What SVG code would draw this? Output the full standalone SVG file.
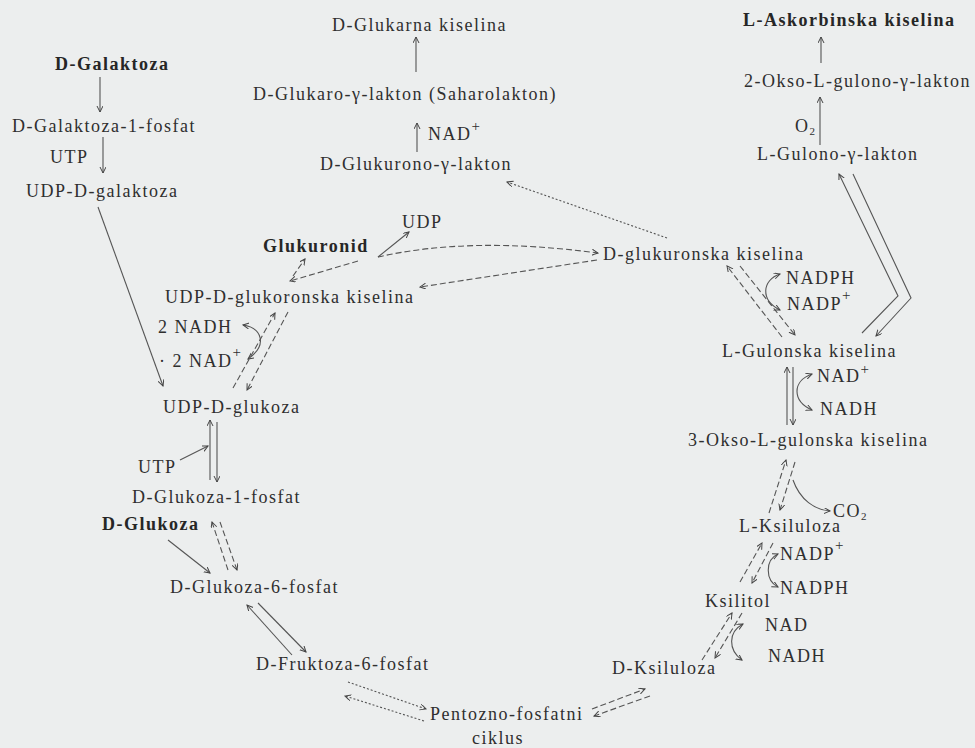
<svg xmlns="http://www.w3.org/2000/svg" width="975" height="748" viewBox="0 0 975 748">
<defs>
<style>
text{font-family:"Liberation Serif","DejaVu Serif",serif;font-size:18px;letter-spacing:1.5px;fill:#2f2f2f}
.b{font-weight:bold;fill:#262626}
.sup{font-size:15px;letter-spacing:0}
.sub{font-size:11px;letter-spacing:0}
.c path,.c line,.c polyline{fill:none;stroke:#555;stroke-width:1.1}
.d{stroke-dasharray:6,3}
.dt{stroke-dasharray:2,2}
.a{marker-end:url(#ah)}
.aa{marker-end:url(#ah);marker-start:url(#ahs)}
</style>
<marker id="ah" markerWidth="8" markerHeight="8" refX="6" refY="3" orient="auto" markerUnits="userSpaceOnUse"><path d="M0,0 L6,3 L0,6" fill="none" stroke="#444" stroke-width="1"/></marker>
<marker id="ahs" markerWidth="8" markerHeight="8" refX="6" refY="3" orient="auto-start-reverse" markerUnits="userSpaceOnUse"><path d="M0,0 L6,3 L0,6" fill="none" stroke="#444" stroke-width="1"/></marker>
</defs>
<rect width="975" height="748" fill="#eceeee"/>

<g id="connectors" class="c">
<line class="a" x1="100" y1="77" x2="100" y2="112"/>
<line class="a" x1="103" y1="137" x2="103" y2="173"/>
<line class="a" x1="98" y1="207" x2="163" y2="386"/>
<line class="a" x1="416" y1="72" x2="416" y2="37"/>
<line class="a" x1="417" y1="152" x2="417" y2="123"/>
<line class="a" x1="821" y1="63" x2="821" y2="37"/>
<line class="a" x1="820" y1="145" x2="820" y2="97"/>
<polyline class="a" points="862,333 898,296 839,174"/>
<polyline class="a" points="853,174 911,298 876,336"/>
<line class="a" x1="787" y1="425" x2="787" y2="367"/>
<line class="a" x1="793" y1="367" x2="793" y2="425"/>
<line class="a" x1="210" y1="480" x2="210" y2="420"/>
<line class="a" x1="217" y1="422" x2="217" y2="482"/>
<line class="a" x1="180" y1="460" x2="208" y2="446"/>
<line class="a" x1="168" y1="540" x2="210" y2="573"/>
<line class="a" x1="292" y1="655" x2="247" y2="605"/>
<line class="a" x1="258" y1="603" x2="306" y2="652"/>
<line class="a" x1="378" y1="257" x2="409" y2="232"/>
<path class="a d" d="M378,257 Q470,236 598,253"/>
<line class="a d" x1="597" y1="260" x2="420" y2="287"/>
<line class="a d" x1="358" y1="261" x2="290" y2="281"/>
<line class="a d" x1="293" y1="276" x2="305" y2="259"/>
<line class="a dt" x1="667" y1="238" x2="507" y2="182"/>
<line class="a d" x1="233" y1="388" x2="275" y2="313"/>
<line class="a d" x1="288" y1="312" x2="247" y2="390"/>
<line class="a d" x1="228" y1="570" x2="212" y2="522"/>
<line class="a d" x1="220" y1="522" x2="237" y2="570"/>
<line class="a d" x1="782" y1="337" x2="727" y2="266"/>
<line class="a d" x1="740" y1="266" x2="795" y2="335"/>
<line class="a d" x1="769" y1="513" x2="786" y2="460"/>
<line class="a d" x1="795" y1="462" x2="780" y2="510"/>
<line class="a d" x1="740" y1="582" x2="762" y2="543"/>
<line class="a d" x1="773" y1="543" x2="752" y2="583"/>
<line class="a d" x1="702" y1="660" x2="732" y2="613"/>
<line class="a d" x1="742" y1="613" x2="715" y2="658"/>
<line class="a dt" x1="348" y1="682" x2="426" y2="709"/>
<line class="a dt" x1="424" y1="721" x2="345" y2="696"/>
<line class="a d" x1="592" y1="709" x2="645" y2="689"/>
<line class="a d" x1="650" y1="696" x2="594" y2="716"/>
<path class="aa" d="M780,310 C760,300 762,280 780,274"/>
<path class="aa" d="M812,410 C792,401 792,381 812,374"/>
<path class="aa" d="M248,359 C268,345 262,328 243,325"/>
<path class="a" d="M793,480 C800,500 815,510 830,511"/>
<path class="aa" d="M778,554 C765,560 765,580 778,587"/>
<path class="aa" d="M743,624 C728,632 728,650 742,660"/>
</g>

<g id="n-glukarna"><text x="332" y="31">D-Glukarna kiselina</text></g>
<g id="n-glukarolakton"><text x="253" y="100">D-Glukaro-γ-lakton (Saharolakton)</text></g>
<g id="l-nad1"><text x="428" y="140">NAD<tspan class="sup" dy="-9">+</tspan></text></g>
<g id="n-glukuronolakton"><text x="320" y="170">D-Glukurono-γ-lakton</text></g>
<g id="n-galaktoza"><text class="b" x="55" y="70">D-Galaktoza</text></g>
<g id="n-gal1p"><text x="12" y="132">D-Galaktoza-1-fosfat</text></g>
<g id="l-utp1"><text x="50" y="163">UTP</text></g>
<g id="n-udpgal"><text x="26" y="197">UDP-D-galaktoza</text></g>
<g id="n-askorbinska"><text class="b" x="743" y="26">L-Askorbinska kiselina</text></g>
<g id="n-2okso"><text x="744" y="87">2-Okso-L-gulono-γ-lakton</text></g>
<g id="l-o2"><text x="795" y="132">O<tspan class="sub" dy="3">2</tspan></text></g>
<g id="n-gulonolakton"><text x="757" y="160">L-Gulono-γ-lakton</text></g>
<g id="l-udp"><text x="402" y="228">UDP</text></g>
<g id="n-glukuronid"><text class="b" x="263" y="252">Glukuronid</text></g>
<g id="n-dglukuronska"><text x="603" y="260">D-glukuronska kiselina</text></g>
<g id="l-nadph1"><text x="786" y="284">NADPH</text></g>
<g id="l-nadp1"><text x="787" y="310">NADP<tspan class="sup" dy="-10">+</tspan></text></g>
<g id="n-udpglukoronska"><text x="165" y="303">UDP-D-glukoronska kiselina</text></g>
<g id="l-2nadh"><text x="158" y="333">2 NADH</text></g>
<g id="l-2nad"><text x="159" y="367">· 2 NAD<tspan class="sup" dy="-10">+</tspan></text></g>
<g id="n-gulonska"><text x="722" y="357">L-Gulonska kiselina</text></g>
<g id="l-nad2"><text x="817" y="382">NAD<tspan class="sup" dy="-8">+</tspan></text></g>
<g id="l-nadh2"><text x="820" y="415">NADH</text></g>
<g id="n-udpglukoza"><text x="163" y="413">UDP-D-glukoza</text></g>
<g id="n-3okso"><text x="688" y="446">3-Okso-L-gulonska kiselina</text></g>
<g id="l-utp2"><text x="138" y="473">UTP</text></g>
<g id="n-g1p"><text x="132" y="503">D-Glukoza-1-fosfat</text></g>
<g id="l-co2"><text x="833" y="517">CO<tspan class="sub" dy="3">2</tspan></text></g>
<g id="n-glukoza"><text class="b" x="102" y="530">D-Glukoza</text></g>
<g id="n-lksiluloza"><text x="739" y="532">L-Ksiluloza</text></g>
<g id="l-nadp2"><text x="780" y="560">NADP<tspan class="sup" dy="-10">+</tspan></text></g>
<g id="n-g6p"><text x="170" y="593">D-Glukoza-6-fosfat</text></g>
<g id="l-nadph2"><text x="780" y="594">NADPH</text></g>
<g id="n-ksilitol"><text x="705" y="607">Ksilitol</text></g>
<g id="l-nad3"><text x="765" y="631">NAD</text></g>
<g id="l-nadh3"><text x="768" y="662">NADH</text></g>
<g id="n-f6p"><text x="256" y="670">D-Fruktoza-6-fosfat</text></g>
<g id="n-dksiluloza"><text x="612" y="674">D-Ksiluloza</text></g>
<g id="n-pentozno"><text x="430" y="720">Pentozno-fosfatni</text><text x="472" y="744">ciklus</text></g>
</svg>
